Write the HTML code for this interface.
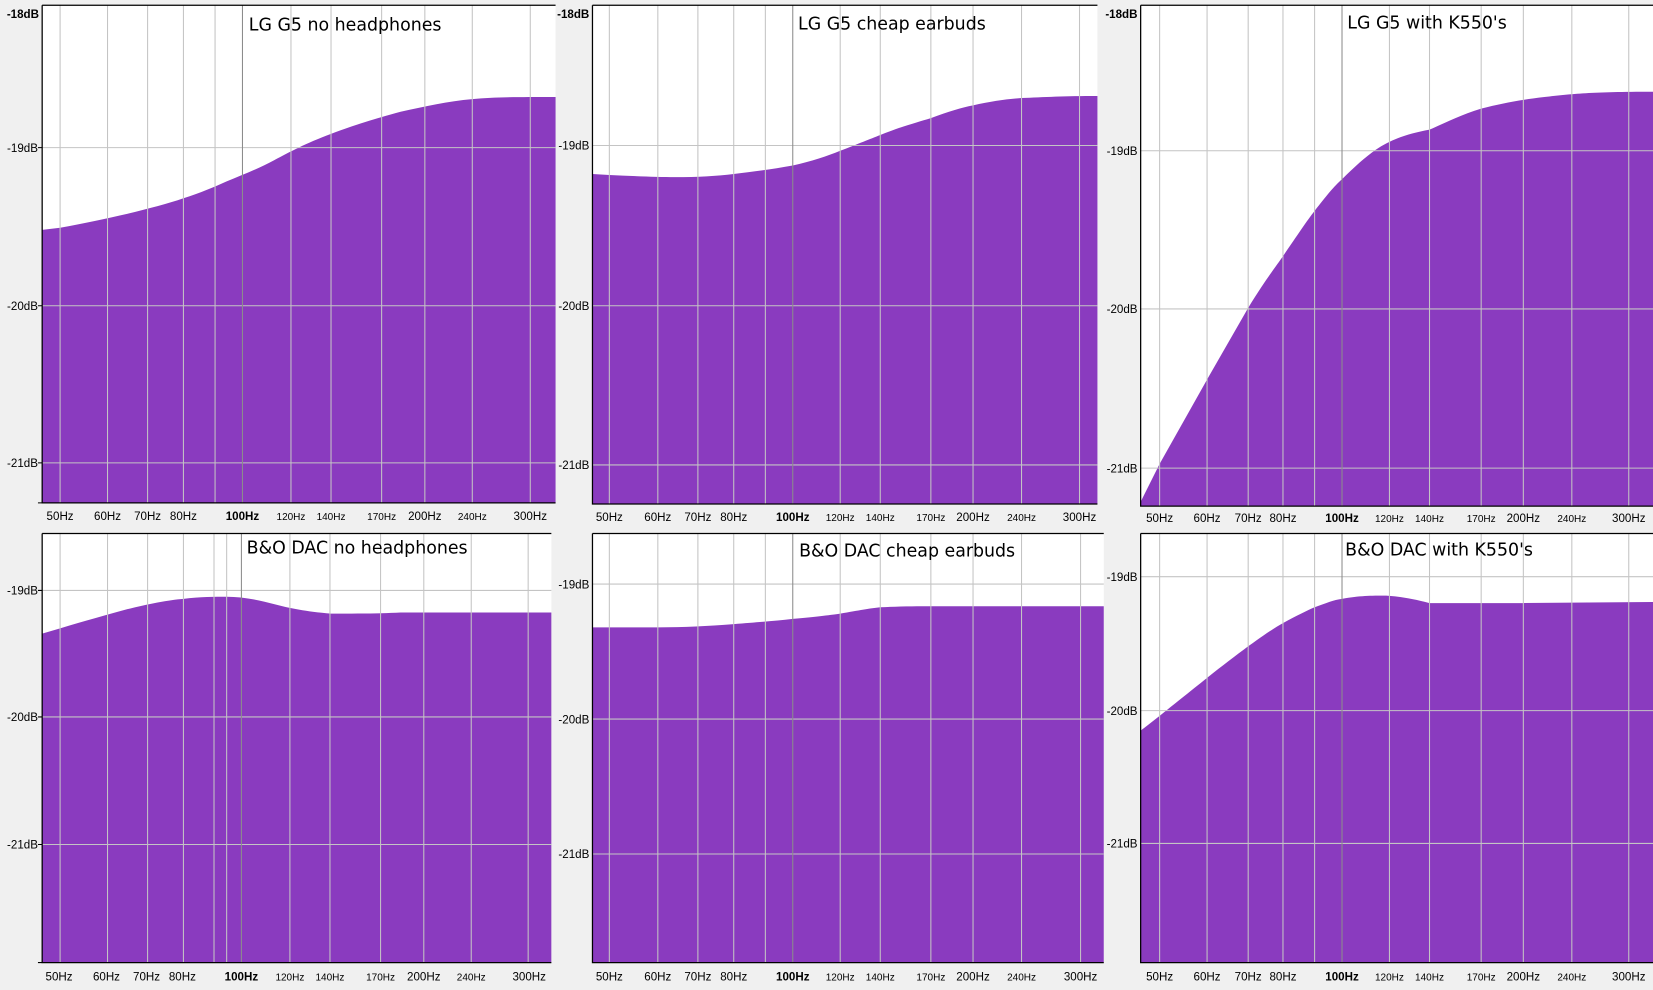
<!DOCTYPE html>
<html><head><meta charset="utf-8"><style>
html,body{margin:0;padding:0;background:#f0f0f0;}
svg{display:block;}
text{font-family:"Liberation Sans",Arial,sans-serif;fill:#000;}
.yl{font-size:11px;text-anchor:end;}
.xl{font-size:11px;text-anchor:middle;}
.xs{font-size:9.5px;text-anchor:middle;}
.xb{font-size:11px;text-anchor:middle;font-weight:bold;}
.t{font-family:"DejaVu Sans","Liberation Sans",sans-serif;font-size:16.5px;}
.g{stroke:#c4c4c4;stroke-width:1;}
.gd{stroke:#8c8c8c;stroke-width:1;}
.f{fill:#8a3bbf;}
</style></head><body>
<svg width="1653" height="990" viewBox="0 0 1568 939" preserveAspectRatio="none" xmlns="http://www.w3.org/2000/svg">
<rect x="0" y="0" width="1568" height="939" fill="#f0f0f0"/>

<!-- Panel 1 -->
<rect x="40" y="5" width="487" height="472" fill="#fff"/>
<path class="f" d="M40,218 L57,216 C80,212 102,207 120,203 C140,198 160,193 174,188 C190,183 204,177 215,172 C230,166 245,160 260,152 C275,144 290,136 314,127 C340,117 362,111 380,106 C403,101 425,96 448,94 C470,92 490,92 527,92 L527,477 L40,477 Z"/>
<g class="g">
<line x1="57" y1="5" x2="57" y2="477"/><line x1="102" y1="5" x2="102" y2="477"/><line x1="140" y1="5" x2="140" y2="477"/><line x1="174" y1="5" x2="174" y2="477"/><line x1="204" y1="5" x2="204" y2="477"/><line x1="276" y1="5" x2="276" y2="477"/><line x1="314" y1="5" x2="314" y2="477"/><line x1="362" y1="5" x2="362" y2="477"/><line x1="403" y1="5" x2="403" y2="477"/><line x1="448" y1="5" x2="448" y2="477"/><line x1="503" y1="5" x2="503" y2="477"/>
<line x1="40" y1="140" x2="527" y2="140"/><line x1="40" y1="290" x2="527" y2="290"/><line x1="40" y1="439" x2="527" y2="439"/>
</g>
<line class="gd" x1="230" y1="5" x2="230" y2="477"/>
<path d="M40,5 L527,5 M40,5 L40,477 L527,477" stroke="#000" fill="none" stroke-width="1.2"/>
<text class="t" x="236" y="29">LG G5 no headphones</text>
<text class="yl" x="37" y="17" font-weight="bold">-18dB</text>
<text class="yl" x="36" y="144">-19dB</text><text class="yl" x="36" y="294">-20dB</text><text class="yl" x="36" y="443">-21dB</text>
<path d="M36,140h4M36,290h4M36,439h4M36,477h4" stroke="#000"/>
<g><text class="xl" x="57" y="493">50Hz</text><text class="xl" x="102" y="493">60Hz</text><text class="xl" x="140" y="493">70Hz</text><text class="xl" x="174" y="493">80Hz</text><text class="xb" x="230" y="493">100Hz</text><text class="xs" x="276" y="493">120Hz</text><text class="xs" x="314" y="493">140Hz</text><text class="xs" x="362" y="493">170Hz</text><text class="xl" x="403" y="493">200Hz</text><text class="xs" x="448" y="493">240Hz</text><text class="xl" x="503" y="493">300Hz</text></g>

<!-- Panel 2 -->
<rect x="562" y="5" width="479" height="473" fill="#fff"/>
<path class="f" d="M562,165 L578,166 C600,167 624,168 640,168 C662,168 680,167 696,165 C712,163 730,161 752,157 C770,153 785,148 797,143 C815,136 825,132 835,128 C855,120 870,116 883,112 C900,106 912,102 923,100 C940,96 955,94 969,93 C990,92 1010,91 1041,91 L1041,478 L562,478 Z"/>
<g class="g">
<line x1="578" y1="5" x2="578" y2="478"/><line x1="624" y1="5" x2="624" y2="478"/><line x1="662" y1="5" x2="662" y2="478"/><line x1="696" y1="5" x2="696" y2="478"/><line x1="726" y1="5" x2="726" y2="478"/><line x1="797" y1="5" x2="797" y2="478"/><line x1="835" y1="5" x2="835" y2="478"/><line x1="883" y1="5" x2="883" y2="478"/><line x1="923" y1="5" x2="923" y2="478"/><line x1="969" y1="5" x2="969" y2="478"/><line x1="1024" y1="5" x2="1024" y2="478"/>
<line x1="562" y1="138" x2="1041" y2="138"/><line x1="562" y1="290" x2="1041" y2="290"/><line x1="562" y1="441" x2="1041" y2="441"/>
</g>
<line class="gd" x1="752" y1="5" x2="752" y2="478"/>
<path d="M562,5 L1041,5 M562,5 L562,478 L1041,478" stroke="#000" fill="none" stroke-width="1.2"/>
<text class="t" x="757" y="28">LG G5 cheap earbuds</text>
<text class="yl" x="559" y="17" font-weight="bold">-18dB</text>
<text class="yl" x="559" y="142">-19dB</text><text class="yl" x="559" y="294">-20dB</text><text class="yl" x="559" y="445">-21dB</text>
<g><text class="xl" x="578" y="494">50Hz</text><text class="xl" x="624" y="494">60Hz</text><text class="xl" x="662" y="494">70Hz</text><text class="xl" x="696" y="494">80Hz</text><text class="xb" x="752" y="494">100Hz</text><text class="xs" x="797" y="494">120Hz</text><text class="xs" x="835" y="494">140Hz</text><text class="xs" x="883" y="494">170Hz</text><text class="xl" x="923" y="494">200Hz</text><text class="xs" x="969" y="494">240Hz</text><text class="xl" x="1024" y="494">300Hz</text></g>

<!-- Panel 3 -->
<rect x="1082" y="5" width="486" height="475" fill="#fff"/>
<path class="f" d="M1082,476 L1100,440 L1145,360 L1184,292 C1200,266 1210,253 1217,243 C1230,224 1240,209 1247,200 C1258,186 1265,177 1273,170 C1285,158 1295,149 1305,142 C1320,132 1335,127 1356,123 C1370,117 1385,109 1405,103 C1425,98 1440,95 1465,92 C1491,89 1510,87 1568,87 L1568,480 L1082,480 Z"/>
<g class="g">
<line x1="1100" y1="5" x2="1100" y2="480"/><line x1="1145" y1="5" x2="1145" y2="480"/><line x1="1184" y1="5" x2="1184" y2="480"/><line x1="1217" y1="5" x2="1217" y2="480"/><line x1="1247" y1="5" x2="1247" y2="480"/><line x1="1318" y1="5" x2="1318" y2="480"/><line x1="1356" y1="5" x2="1356" y2="480"/><line x1="1405" y1="5" x2="1405" y2="480"/><line x1="1445" y1="5" x2="1445" y2="480"/><line x1="1491" y1="5" x2="1491" y2="480"/><line x1="1545" y1="5" x2="1545" y2="480"/>
<line x1="1082" y1="143" x2="1568" y2="143"/><line x1="1082" y1="293" x2="1568" y2="293"/><line x1="1082" y1="444" x2="1568" y2="444"/>
</g>
<line class="gd" x1="1273" y1="5" x2="1273" y2="480"/>
<path d="M1082,5 L1568,5 M1082,5 L1082,480 L1568,480" stroke="#000" fill="none" stroke-width="1.2"/>
<text class="t" x="1278" y="27">LG G5 with K550's</text>
<text class="yl" x="1079" y="17" font-weight="bold">-18dB</text>
<text class="yl" x="1079" y="147">-19dB</text><text class="yl" x="1079" y="297">-20dB</text><text class="yl" x="1079" y="448">-21dB</text>
<g><text class="xl" x="1100" y="495">50Hz</text><text class="xl" x="1145" y="495">60Hz</text><text class="xl" x="1184" y="495">70Hz</text><text class="xl" x="1217" y="495">80Hz</text><text class="xb" x="1273" y="495">100Hz</text><text class="xs" x="1318" y="495">120Hz</text><text class="xs" x="1356" y="495">140Hz</text><text class="xs" x="1405" y="495">170Hz</text><text class="xl" x="1445" y="495">200Hz</text><text class="xs" x="1491" y="495">240Hz</text><text class="xl" x="1545" y="495">300Hz</text></g>

<!-- Panel 4 -->
<rect x="40" y="506" width="483" height="407" fill="#fff"/>
<path class="f" d="M40,601 L57,596 C80,589 102,583 120,578 C140,573 160,569 174,568 C190,566 204,566 215,566 C230,566 245,569 260,573 C275,577 290,580 314,582 C340,582 362,582 380,581 L523,581 L523,913 L40,913 Z"/>
<g class="g">
<line x1="57" y1="506" x2="57" y2="913"/><line x1="102" y1="506" x2="102" y2="913"/><line x1="140" y1="506" x2="140" y2="913"/><line x1="174" y1="506" x2="174" y2="913"/><line x1="203" y1="506" x2="203" y2="913"/><line x1="215" y1="506" x2="215" y2="913"/><line x1="275" y1="506" x2="275" y2="913"/><line x1="313" y1="506" x2="313" y2="913"/><line x1="361" y1="506" x2="361" y2="913"/><line x1="402" y1="506" x2="402" y2="913"/><line x1="447" y1="506" x2="447" y2="913"/><line x1="501" y1="506" x2="501" y2="913"/>
<line x1="40" y1="560" x2="523" y2="560"/><line x1="40" y1="680" x2="523" y2="680"/><line x1="40" y1="801" x2="523" y2="801"/>
</g>
<line class="gd" x1="229" y1="506" x2="229" y2="913"/>
<path d="M40,506 L523,506 M40,506 L40,913 L523,913" stroke="#000" fill="none" stroke-width="1.2"/>
<text class="t" x="234" y="525">B&amp;O DAC no headphones</text>
<text class="yl" x="36" y="564">-19dB</text><text class="yl" x="36" y="684">-20dB</text><text class="yl" x="36" y="805">-21dB</text>
<path d="M36,560h4M36,680h4M36,801h4M36,913h4" stroke="#000"/>
<g><text class="xl" x="56" y="930">50Hz</text><text class="xl" x="101" y="930">60Hz</text><text class="xl" x="139" y="930">70Hz</text><text class="xl" x="173" y="930">80Hz</text><text class="xb" x="229" y="930">100Hz</text><text class="xs" x="275" y="930">120Hz</text><text class="xs" x="313" y="930">140Hz</text><text class="xs" x="361" y="930">170Hz</text><text class="xl" x="402" y="930">200Hz</text><text class="xs" x="447" y="930">240Hz</text><text class="xl" x="502" y="930">300Hz</text></g>

<!-- Panel 5 -->
<rect x="562" y="506" width="485" height="407" fill="#fff"/>
<path class="f" d="M562,595 L624,595 C650,595 670,594 696,592 C720,590 735,589 752,587 C775,585 790,583 797,582 C815,579 825,577 835,576 C855,575 870,575 883,575 L1047,575 L1047,913 L562,913 Z"/>
<g class="g">
<line x1="578" y1="506" x2="578" y2="913"/><line x1="624" y1="506" x2="624" y2="913"/><line x1="662" y1="506" x2="662" y2="913"/><line x1="696" y1="506" x2="696" y2="913"/><line x1="726" y1="506" x2="726" y2="913"/><line x1="797" y1="506" x2="797" y2="913"/><line x1="835" y1="506" x2="835" y2="913"/><line x1="883" y1="506" x2="883" y2="913"/><line x1="923" y1="506" x2="923" y2="913"/><line x1="969" y1="506" x2="969" y2="913"/><line x1="1025" y1="506" x2="1025" y2="913"/>
<line x1="562" y1="554" x2="1047" y2="554"/><line x1="562" y1="682" x2="1047" y2="682"/><line x1="562" y1="810" x2="1047" y2="810"/>
</g>
<line class="gd" x1="752" y1="506" x2="752" y2="913"/>
<path d="M562,506 L1047,506 M562,506 L562,913 L1047,913" stroke="#000" fill="none" stroke-width="1.2"/>
<text class="t" x="758" y="528">B&amp;O DAC cheap earbuds</text>
<text class="yl" x="559" y="558">-19dB</text><text class="yl" x="559" y="686">-20dB</text><text class="yl" x="559" y="814">-21dB</text>
<g><text class="xl" x="578" y="930">50Hz</text><text class="xl" x="624" y="930">60Hz</text><text class="xl" x="662" y="930">70Hz</text><text class="xl" x="696" y="930">80Hz</text><text class="xb" x="752" y="930">100Hz</text><text class="xs" x="797" y="930">120Hz</text><text class="xs" x="835" y="930">140Hz</text><text class="xs" x="883" y="930">170Hz</text><text class="xl" x="923" y="930">200Hz</text><text class="xs" x="969" y="930">240Hz</text><text class="xl" x="1025" y="930">300Hz</text></g>

<!-- Panel 6 -->
<rect x="1082" y="506" width="486" height="407" fill="#fff"/>
<path class="f" d="M1082,693 L1100,679 C1120,663 1135,651 1145,643 C1160,631 1172,622 1184,613 C1198,603 1208,596 1217,591 C1230,584 1240,579 1247,576 C1258,572 1265,569 1273,568 C1290,565 1300,565 1315,565 C1330,566 1340,568 1356,572 C1370,572 1400,572 1445,572 L1568,571 L1568,913 L1082,913 Z"/>
<g class="g">
<line x1="1100" y1="506" x2="1100" y2="913"/><line x1="1145" y1="506" x2="1145" y2="913"/><line x1="1184" y1="506" x2="1184" y2="913"/><line x1="1217" y1="506" x2="1217" y2="913"/><line x1="1247" y1="506" x2="1247" y2="913"/><line x1="1318" y1="506" x2="1318" y2="913"/><line x1="1356" y1="506" x2="1356" y2="913"/><line x1="1405" y1="506" x2="1405" y2="913"/><line x1="1445" y1="506" x2="1445" y2="913"/><line x1="1491" y1="506" x2="1491" y2="913"/><line x1="1545" y1="506" x2="1545" y2="913"/>
<line x1="1082" y1="547" x2="1568" y2="547"/><line x1="1082" y1="674" x2="1568" y2="674"/><line x1="1082" y1="800" x2="1568" y2="800"/>
</g>
<line class="gd" x1="1273" y1="506" x2="1273" y2="913"/>
<path d="M1082,506 L1568,506 M1082,506 L1082,913 L1568,913" stroke="#000" fill="none" stroke-width="1.2"/>
<text class="t" x="1276" y="527">B&amp;O DAC with K550's</text>
<text class="yl" x="1079" y="551">-19dB</text><text class="yl" x="1079" y="678">-20dB</text><text class="yl" x="1079" y="804">-21dB</text>
<g><text class="xl" x="1100" y="930">50Hz</text><text class="xl" x="1145" y="930">60Hz</text><text class="xl" x="1184" y="930">70Hz</text><text class="xl" x="1217" y="930">80Hz</text><text class="xb" x="1273" y="930">100Hz</text><text class="xs" x="1318" y="930">120Hz</text><text class="xs" x="1356" y="930">140Hz</text><text class="xs" x="1405" y="930">170Hz</text><text class="xl" x="1445" y="930">200Hz</text><text class="xs" x="1491" y="930">240Hz</text><text class="xl" x="1545" y="930">300Hz</text></g>
</svg>
</body></html>
